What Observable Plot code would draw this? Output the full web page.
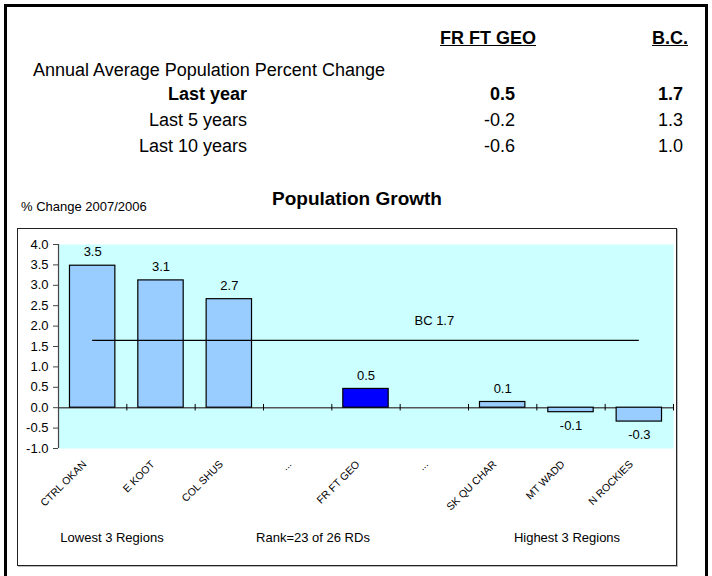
<!DOCTYPE html>
<html>
<head>
<meta charset="utf-8">
<script src="https://cdn.jsdelivr.net/npm/d3@7"></script>
<script src="https://cdn.jsdelivr.net/npm/@observablehq/plot@0.6"></script>
<style>
  html, body { margin: 0; padding: 0; background: #fff; }
  body { font-family: "Liberation Sans", Arial, sans-serif; color: #000; }
  #page { position: relative; width: 712px; height: 576px; overflow: hidden; }
  .abs { position: absolute; white-space: nowrap; }
  .outer { left: 4px; top: 4px; width: 698px; height: 580px; border: 3px solid #000; }
  .inner { left: 17px; top: 228px; width: 658px; height: 336px; border: 1px solid #222; box-shadow: 1px 1px 0 #bbb; }
  .t18 { font-size: 18px; line-height: 22px; }
  .b { font-weight: bold; }
  .u { text-decoration: underline; }
  .r { text-align: right; }
  .c { text-align: center; }
  .t13 { font-size: 13px; line-height: 16px; }
</style>
</head>
<body>
<div id="page">
  <div class="abs outer"></div>
  <div class="abs inner"></div>
  <div id="chart" class="abs" style="left:17px;top:228px;"></div>
</div>
<script>
// ---- data ----
const tableHeaders = ["FR FT GEO", "B.C."];
const tableTitle = "Annual Average Population Percent Change";
const periods = ["Last year", "Last 5 years", "Last 10 years"];
const regionValues = ["0.5", "-0.2", "-0.6"];
const bcValues = ["1.7", "1.3", "1.0"];

const chartTitle = "Population Growth";
const yLabel = "% Change 2007/2006";
const categories = ["CTRL OKAN", "E KOOT", "COL SHUS", "...", "FR FT GEO", "...", "SK QU CHAR", "MT WADD", "N ROCKIES"];
const growth = [3.48, 3.12, 2.66, null, 0.46, null, 0.14, -0.11, -0.34];
const highlight = "FR FT GEO";
const bcGrowth = 1.65;
const bcLabel = "BC 1.7";
const yTicks = [-1.0, -0.5, 0.0, 0.5, 1.0, 1.5, 2.0, 2.5, 3.0, 3.5, 4.0];
const footerLabels = ["Lowest 3 Regions", "Rank=23 of 26 RDs", "Highest 3 Regions"];

// ---- HTML text (table, titles, footer) ----
const page = document.getElementById("page");
function addText(txt, cls, style) {
  const d = document.createElement("div");
  d.className = "abs " + cls;
  d.textContent = txt;
  Object.assign(d.style, style);
  page.appendChild(d);
  return d;
}
addText(tableHeaders[0], "t18 b u", {left: "440px", top: "27px"});
addText(tableHeaders[1], "t18 b u", {left: "652px", top: "27px"});
addText(tableTitle, "t18", {left: "33px", top: "59px"});
const rowY = [94, 120, 146];
periods.forEach((p, k) => {
  const bold = k === 0 ? " b" : "";
  addText(p, "t18 r" + bold, {left: "47px", width: "200px", top: (rowY[k] - 11) + "px"});
  addText(regionValues[k], "t18 r" + bold, {left: "415px", width: "100px", top: (rowY[k] - 11) + "px"});
  addText(bcValues[k], "t18 r" + bold, {left: "583px", width: "100px", top: (rowY[k] - 11) + "px"});
});
addText(chartTitle, "b c", {left: "257px", width: "200px", top: "188px", fontSize: "19px", lineHeight: "22px"});
addText(yLabel, "t13", {left: "21px", top: "199px"});
const footX = [112, 313, 567];
footerLabels.forEach((f, k) => {
  addText(f, "t13 c", {left: (footX[k] - 100) + "px", width: "200px", top: "530px"});
});

// ---- chart ----
const rows = categories.map((name, i) => ({i, name, value: growth[i]})).filter(d => d.value != null);
const fmt = v => v.toFixed(1);
const n = categories.length;
const boundaries = d3.range(1, n + 1).map(k => k - 0.5);

const chart = Plot.plot({
  width: 660,
  height: 336,
  marginLeft: 41,
  marginRight: 4,
  marginTop: 16,
  marginBottom: 116,
  style: {background: "transparent", fontFamily: "Liberation Sans, Arial, sans-serif", color: "#000", overflow: "visible"},
  x: {type: "linear", domain: [-0.5, n - 0.5]},
  y: {domain: [-1, 4]},
  marks: [
    Plot.frame({fill: "#ccffff", stroke: null}),
    Plot.ruleY([0], {stroke: "#555", strokeWidth: 1.5}),
    Plot.ruleX([-0.5], {y1: -1, y2: 4, stroke: "#444", strokeWidth: 1.2}),
    Plot.ruleX(boundaries, {y1: -0.08, y2: 0.08, stroke: "#000"}),
    Plot.rectY(rows.filter(d => d.name !== highlight), {x1: d => d.i - 0.332, x2: d => d.i + 0.332, y1: 0, y2: "value", fill: "#99ccff", stroke: "#000", strokeWidth: 1.2}),
    Plot.rectY(rows.filter(d => d.name === highlight), {x1: d => d.i - 0.332, x2: d => d.i + 0.332, y1: 0, y2: "value", fill: "#0000ff", stroke: "#000", strokeWidth: 1.2}),
    Plot.ruleY([bcGrowth], {x1: 0, x2: n - 1, stroke: "#000", strokeWidth: 1.2}),
    Plot.text([bcLabel], {x: n - 4, y: bcGrowth, dy: -20, fontSize: 13, fill: "#000"}),
    Plot.text(rows.filter(d => d.value >= 0), {x: "i", y: "value", text: d => fmt(d.value), dy: -13.5, fontSize: 13, fill: "#000"}),
    Plot.text(rows.filter(d => d.value < 0), {x: "i", y: "value", text: d => fmt(d.value), dy: 13.5, fontSize: 13, fill: "#000"}),
    Plot.axisY({ticks: yTicks, tickFormat: fmt, tickSize: 5, tickPadding: 5, fontSize: 13, label: null, stroke: "#444"}),
    Plot.axisX({ticks: d3.range(n), tickFormat: i => categories[i], tickRotate: -45, tickSize: 0, tickPadding: 14, dx: -8, fontSize: 10.5, label: null})
  ]
});
document.getElementById("chart").appendChild(chart);
</script>
</body>
</html>
